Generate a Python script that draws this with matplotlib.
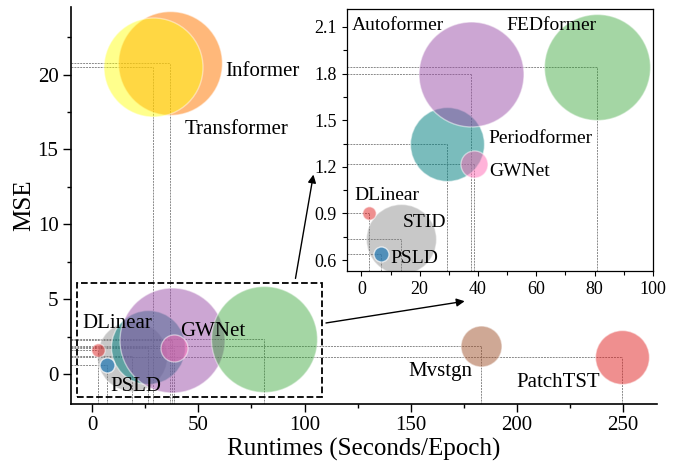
import matplotlib
matplotlib.use("Agg")
import matplotlib.pyplot as plt
from matplotlib.patches import Rectangle
from matplotlib.ticker import MultipleLocator

plt.rcParams['font.family'] = 'serif'
plt.rcParams['font.serif'] = ['Liberation Serif', 'DejaVu Serif']

# ---- data ----
models = ['Informer', 'Transformer', 'STID', 'Periodformer', 'Autoformer',
          'FEDformer', 'GWNet', 'DLinear', 'PSLD', 'Mvstgn', 'PatchTST']
runtime = [36.7, 28.5, 18.7, 26.5, 37.5, 81.0, 38.7, 2.5, 6.9, 183.3, 249.6]
mse = [20.8, 20.5, 1.22, 1.82, 2.29, 2.33, 1.72, 1.6, 0.62, 1.86, 1.15]
bubble = [5600, 5080, 2540, 2840, 5715, 5820, 380, 94, 117, 870, 1510]

# zoomed view (inset)
zoom_models = ['STID', 'Periodformer', 'Autoformer', 'FEDformer', 'GWNet', 'DLinear', 'PSLD']
zoom_runtime = [13.7, 29.5, 37.6, 80.8, 38.7, 2.5, 6.6]
zoom_mse = [0.735, 1.347, 1.80, 1.844, 1.216, 0.904, 0.636]

colors = {'Informer': ('#ff7f0e', 0.55), 'Transformer': ('#ffff00', 0.45),
          'STID': ('#808080', 0.43), 'Periodformer': ('#008080', 0.52),
          'Autoformer': ('#9b4fa8', 0.5), 'FEDformer': ('#2ca02c', 0.43),
          'GWNet': ('#ff69b4', 0.5), 'DLinear': ('#e02020', 0.5),
          'PSLD': ('#1f77b4', 0.7), 'Mvstgn': ('#a0522d', 0.5),
          'PatchTST': ('#e02020', 0.5)}

main_labels = {'Informer': (62.6, 20.2), 'Transformer': (43.4, 16.36),
               'DLinear': (-4.5, 3.36), 'GWNet': (41.4, 2.82), 'PSLD': (8.5, -0.84),
               'Mvstgn': (148.8, 0.16), 'PatchTST': (199.8, -0.57)}
zoom_labels = {'Autoformer': (-3.4, 2.111), 'FEDformer': (49.8, 2.111),
               'Periodformer': (43.5, 1.381), 'GWNet': (43.9, 1.173),
               'DLinear': (-2.3, 1.016), 'STID': (14.3, 0.84), 'PSLD': (10.1, 0.612)}

guide = dict(color='#8a8a8a', ls=(0, (2, 1)), lw=0.7, zorder=1)

fig = plt.figure(figsize=(6.8, 4.68), dpi=100)
ax = fig.add_axes([0.1044, 0.1368, 0.8618, 0.848])
ax.set_xlim(-10, 266)
ax.set_ylim(-2, 24.5)

for m, x, y, s in zip(models, runtime, mse, bubble):
    c, a = colors[m]
    ax.plot([-10, x], [y, y], **guide)
    ax.plot([x, x], [-2, y], **guide)
    ax.scatter(x, y, s=s, color=c, alpha=a, edgecolors='white', linewidths=1, zorder=2)

for m, (tx, ty) in main_labels.items():
    ax.text(tx, ty, m, fontsize=15, ha='left', va='center', zorder=5)

ax.add_patch(Rectangle((-7, -1.55), 115, 7.6, fill=False, ls='--', lw=1.3,
                       ec='black', zorder=4))
ax.annotate('', xy=(104.4, 13.5), xytext=(95.5, 6.2),
            arrowprops=dict(arrowstyle='-|>', color='black', lw=1, mutation_scale=12))
ax.annotate('', xy=(176.7, 4.89), xytext=(108.8, 3.38),
            arrowprops=dict(arrowstyle='-|>', color='black', lw=1, mutation_scale=12))

ax.spines['top'].set_visible(False)
ax.spines['right'].set_visible(False)
for sp in ['left', 'bottom']:
    ax.spines[sp].set_linewidth(1.2)
ax.xaxis.set_major_locator(MultipleLocator(50))
ax.xaxis.set_minor_locator(MultipleLocator(25))
ax.yaxis.set_major_locator(MultipleLocator(5))
ax.yaxis.set_minor_locator(MultipleLocator(2.5))
ax.tick_params(which='major', length=5.5, width=1, labelsize=15)
ax.tick_params(which='minor', length=3, width=1)
ax.set_xlabel('Runtimes (Seconds/Epoch)', fontsize=18, labelpad=2)
ax.set_ylabel('MSE', fontsize=18, labelpad=2)

# ---- inset ----
ins = fig.add_axes([0.510, 0.421, 0.450, 0.560])
ins.set_xlim(-5, 100)
ins.set_ylim(0.53, 2.216)
for m, x, y in zip(zoom_models, zoom_runtime, zoom_mse):
    c, a = colors[m]
    s = bubble[models.index(m)]
    ins.plot([-5, x], [y, y], **guide)
    ins.plot([x, x], [0.53, y], **guide)
    ins.scatter(x, y, s=s, color=c, alpha=a, edgecolors='white', linewidths=1, zorder=2)

for m, (tx, ty) in zoom_labels.items():
    ins.text(tx, ty, m, fontsize=14, ha='left', va='center', zorder=5)

ins.xaxis.set_major_locator(MultipleLocator(20))
ins.xaxis.set_minor_locator(MultipleLocator(10))
ins.yaxis.set_minor_locator(MultipleLocator(0.15))
ins.set_yticks([0.6, 0.9, 1.2, 1.5, 1.8, 2.1])
ins.set_yticklabels(['0.6', '0.9', '1.2', '1.5', '1.8', '2.1'])
ins.tick_params(which='major', length=3.5, width=0.8, labelsize=13)
ins.tick_params(which='minor', length=3, width=0.8)
for sp in ins.spines.values():
    sp.set_linewidth(0.9)

fig.savefig('out.png', dpi=100)
